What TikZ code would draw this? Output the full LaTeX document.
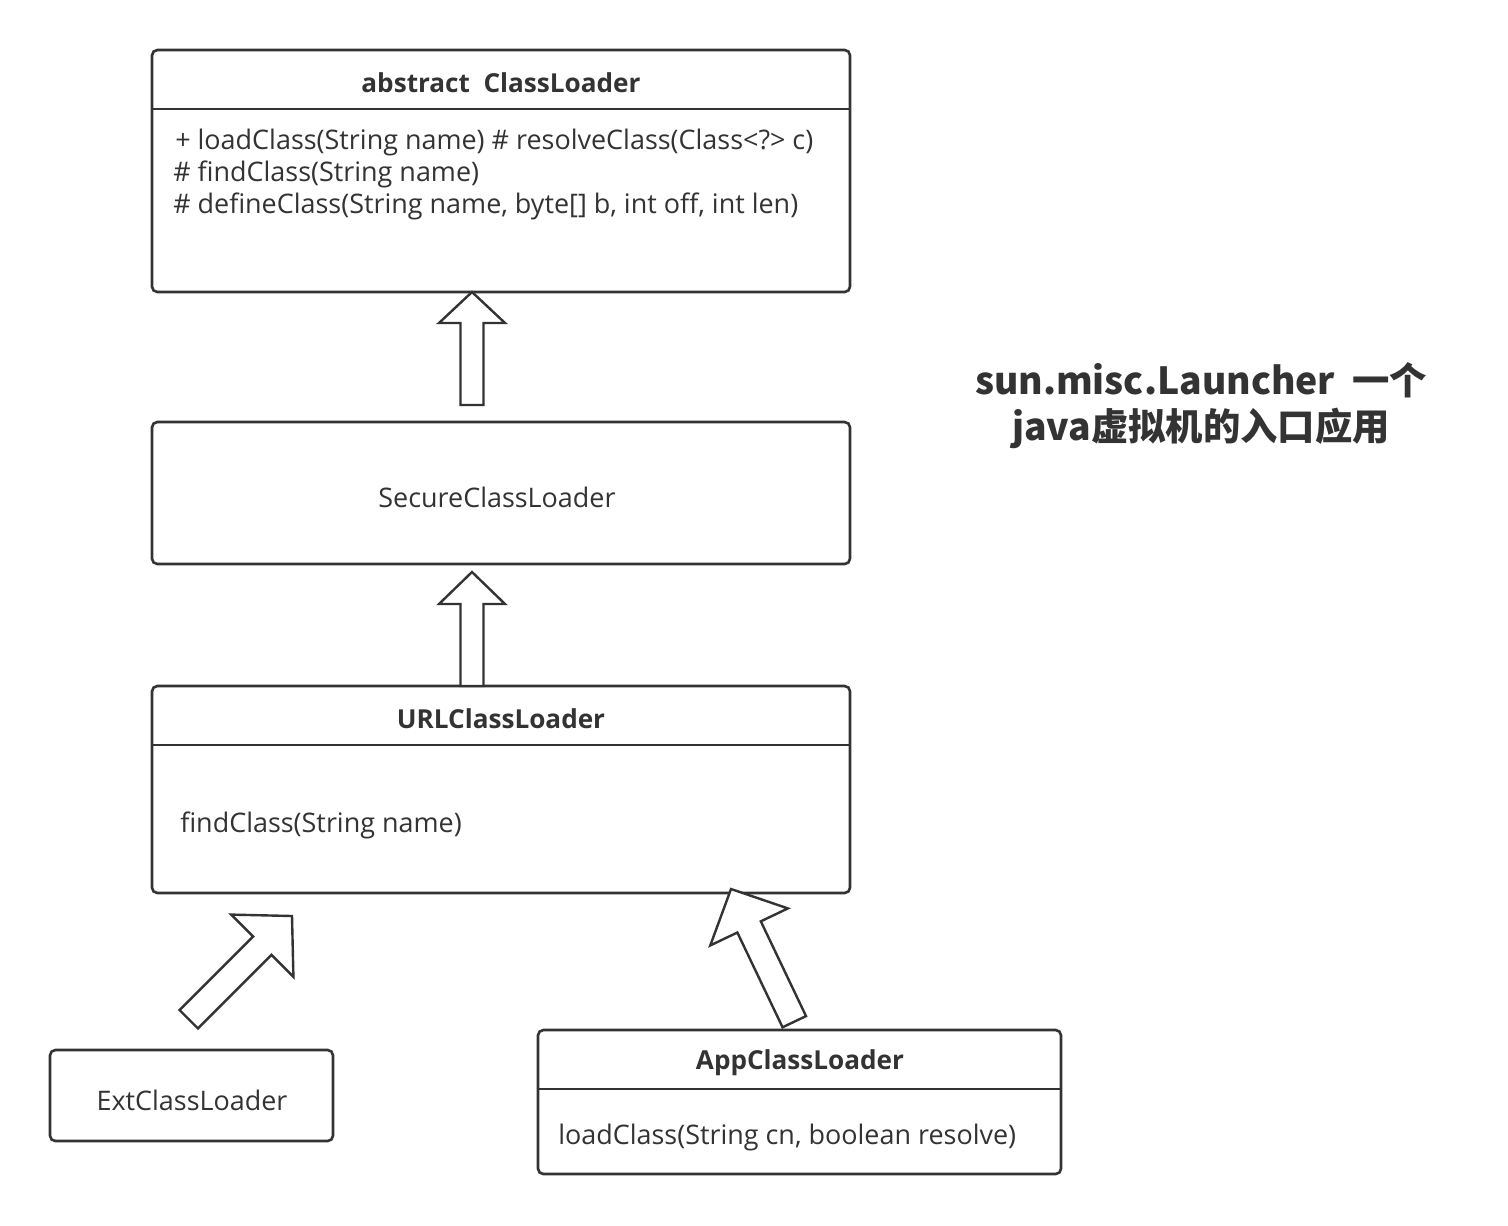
\documentclass[tikz,border=0pt]{standalone}
\usepackage{fontspec}
\setmainfont{Open Sans}
\newfontfamily\cjkfont{Noto Sans CJK SC}
\usetikzlibrary{fit}
\definecolor{ink}{HTML}{333333}
\tikzset{
  box/.style={draw=ink, line width=2.6pt*0.75, rounded corners=4pt, inner sep=0pt},
  divider/.style={draw=ink, line width=2.6pt*0.75},
  body/.style={text=ink, font=\fontsize{20.2}{24}\selectfont, inner sep=0pt},
  head/.style={text=ink, font=\fontsize{19.6}{24}\selectfont\bfseries, inner sep=0pt},
  blockarrow/.style={draw=ink, fill=white, line width=2.4pt*0.75, line join=miter},
}
% #1 head length, #2 head half width, #3 shaft half width, #4 total length
\newcommand{\hollowarrow}[4]{%
  \draw[blockarrow] (0,0) -- (-#1,#2) -- (-#1,#3) -- (-#4,#3) -- (-#4,-#3) -- (-#1,-#3) -- (-#1,-#2) -- cycle;}
\begin{document}
\begin{tikzpicture}[x=0.75pt, y=-0.75pt]
\useasboundingbox[fill=white] (0,0) rectangle (1508,1225);

% ClassLoader
\node[box, fit={(152,50)(850,292)}] (cl) {};
\draw[divider] (152,109) -- (850,109);
\node[head] (clt) at (501,83) {abstract\ \ ClassLoader};
\node[body, anchor=west] (cl1) at (175,142) {+ loadClass(String name) \# resolveClass(Class<?> c)};
\node[body, anchor=west] (cl2) at (173,174) {\# findClass(String name)};
\node[body, anchor=west] (cl3) at (173,206) {\# defineClass(String name, byte[] b, int off, int len)};

% SecureClassLoader
\node[box, fit={(152,422)(850,564)}] (scl) {};
\node[body] (sclt) at (497,497) {SecureClassLoader};

% URLClassLoader
\node[box, fit={(152,686)(850,893)}] (ucl) {};
\draw[divider] (152,745) -- (850,745);
\node[head] (uclt) at (501,719) {URLClassLoader};
\node[body, anchor=west] (ucl1) at (180,825) {findClass(String name)};

% ExtClassLoader
\node[box, fit={(50,1050)(333,1141)}] (ecl) {};
\node[body] (eclt) at (192,1100) {ExtClassLoader};

% AppClassLoader
\node[box, fit={(538,1030)(1061,1174)}] (acl) {};
\draw[divider] (538,1089) -- (1061,1089);
\node[head] (aclt) at (800,1063) {AppClassLoader};
\node[body, anchor=west] (acl1) at (558,1137) {loadClass(String cn, boolean resolve)};

% inheritance block arrows
\begin{scope}[shift={(472,292)}, rotate=90]\hollowarrow{31}{33}{11.5}{113}\end{scope}
\begin{scope}[shift={(472,572)}, rotate=90]\hollowarrow{32}{33}{11.5}{114}\end{scope}
\begin{scope}[shift={(292,916)}, rotate=45]\hollowarrow{42}{44}{13}{146}\end{scope}
\begin{scope}[shift={(731,889)}, rotate=115.5]\hollowarrow{42}{43}{13}{147}\end{scope}

% title
\node[text=ink, font=\cjkfont\fontsize{28}{34.5}\selectfont\bfseries, align=center, inner sep=0pt] (title) at (1201,406)
  {sun.misc.Launcher\ \ 一个\\java虚拟机的入口应用};
\end{tikzpicture}
\end{document}
